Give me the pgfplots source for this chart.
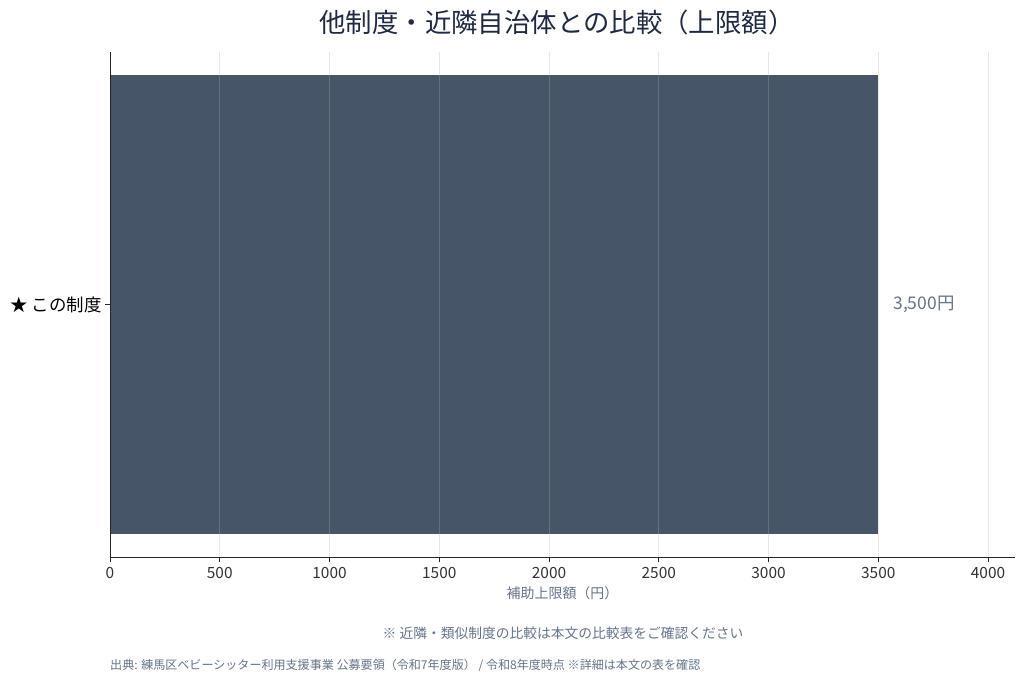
\documentclass[border=0pt]{standalone}
\usepackage{fontspec}
\setmainfont{Noto Sans CJK JP}
\usepackage{pgfplots}
\pgfplotsset{compat=1.18}
\definecolor{barcol}{HTML}{475569}
\definecolor{titlecol}{HTML}{1E2A44}
\definecolor{notecol}{HTML}{64748B}
\definecolor{gridcol}{HTML}{B0B0B0}
\begin{document}
\begin{tikzpicture}[x=1bp,y=1bp]
\useasboundingbox (0,0) rectangle (1024,681);
\begin{axis}[
    at={(110bp,124bp)}, anchor=south west,
    scale only axis, width=905bp, height=505bp,
    xbar, bar width=1,
    xmin=0, xmax=4123, ymin=-0.55, ymax=0.55,
    axis on top, clip=false,
    axis x line*=bottom, axis y line*=left,
    axis line style={-, draw=black!85, line width=0.9bp},
    xtick={0,500,...,4000},
    ytick={0}, yticklabels={★ この制度},
    tick align=outside, major tick length=5bp,
    tick style={draw=black!85, line width=0.8bp},
    xmajorgrids, major grid style={draw=gridcol, draw opacity=0.3, line width=0.8bp},
    /pgf/number format/assume math mode=true,
    /pgf/number format/1000 sep={},
    xticklabel style={font=\fontsize{15.5}{18}\selectfont, text=black!80, yshift=-2bp},
    yticklabel style={font=\fontsize{17.5}{20}\selectfont, text=black},
    xlabel={補助上限額（円）},
    xlabel style={font=\fontsize{14}{16}\selectfont, text=notecol, yshift=-1bp},
  ]
  \addplot[fill=barcol, draw=none] coordinates {(3500,0)};
  \node[anchor=west, inner sep=0pt, text=notecol, font=\fontsize{17.5}{20}\selectfont, xshift=15bp]
    at (axis cs:3500,0) {3,500円};
\end{axis}
\node[text=titlecol, font=\fontsize{26.5}{30}\selectfont] at (557,659) {他制度・近隣自治体との比較（上限額）};
\node[text=notecol, font=\fontsize{13.8}{16}\selectfont] at (563,48) {※ 近隣・類似制度の比較は本文の比較表をご確認ください};
\node[anchor=west, inner sep=0pt, text=notecol, font=\fontsize{12.1}{14}\selectfont] at (110,16) {出典: 練馬区ベビーシッター利用支援事業 公募要領（令和7年度版） / 令和8年度時点 ※詳細は本文の表を確認};
\end{tikzpicture}
\end{document}
